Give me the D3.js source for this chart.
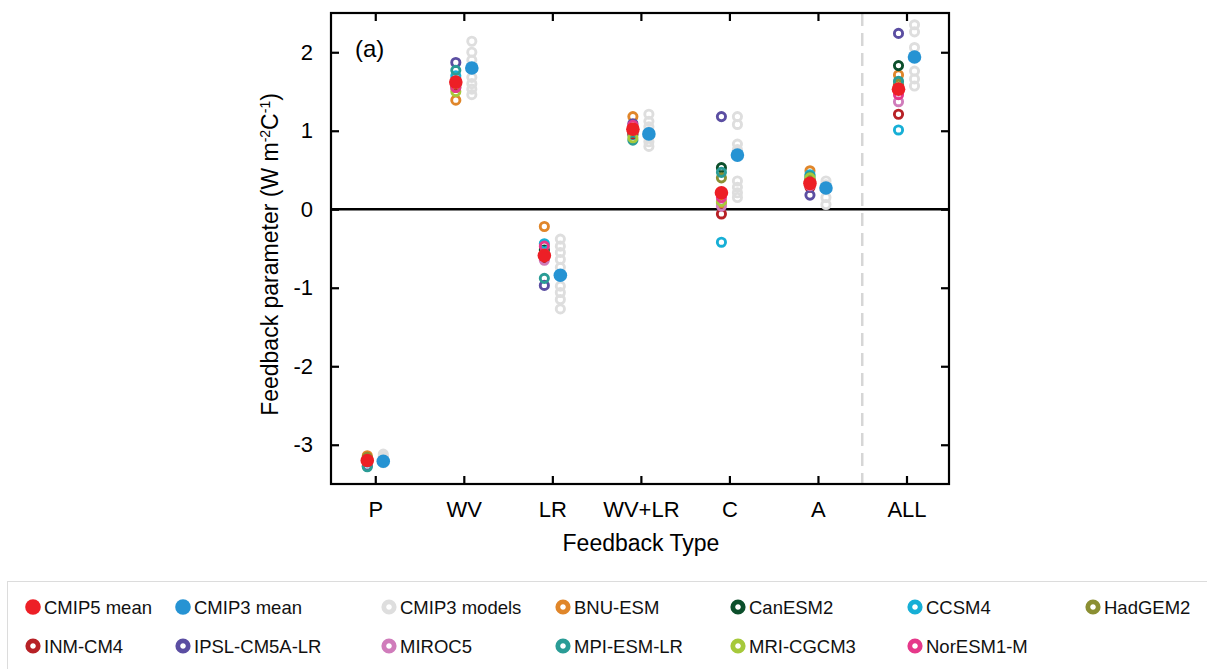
<!DOCTYPE html>
<html>
<head>
<meta charset="utf-8">
<script src="https://cdn.jsdelivr.net/npm/d3@7"></script>
<style>
  html, body { margin: 0; padding: 0; background: #fff; }
  svg { display: block; font-family: "Liberation Sans", Arial, Helvetica, sans-serif; }
</style>
</head>
<body>
<svg id="chart" width="1207" height="669"></svg>
<script>
// ---------------- DATA ----------------
const categories = ["P", "WV", "LR", "WV+LR", "C", "A", "ALL"];
const yTicks = [-3, -2, -1, 0, 1, 2];

const cmip5Mean = [-3.20, 1.62, -0.59, 1.02, 0.21, 0.33, 1.53];
const cmip3Mean = [-3.21, 1.80, -0.84, 0.96, 0.69, 0.27, 1.94];

// CMIP3 individual models (grey rings), one list per category
const cmip3P    = [-3.12, -3.15, -3.18, -3.21, -3.23];
const cmip3WV   = [2.14, 2.00, 1.90, 1.68, 1.60, 1.53, 1.46];
const cmip3LR   = [-0.38, -0.47, -0.55, -0.64, -0.74, -0.98, -1.06, -1.15, -1.27];
const cmip3WVLR = [1.21, 1.12, 1.05, 0.98, 0.92, 0.86, 0.80];
const cmip3C    = [1.18, 1.08, 0.83, 0.76, 0.36, 0.28, 0.21, 0.15];
const cmip3A    = [0.36, 0.31, 0.25, 0.15, 0.06];
const cmip3ALL  = [2.35, 2.26, 2.06, 1.76, 1.66, 1.57];

// CMIP5 models: values for P, WV, LR, WV+LR, C, A, ALL
const modelNames = ["BNU-ESM", "CanESM2", "CCSM4", "HadGEM2", "INM-CM4", "IPSL-CM5A-LR",
                    "MIROC5", "MPI-ESM-LR", "MRI-CGCM3", "NorESM1-M"];
const bnuEsm    = [-3.14, 1.39, -0.22, 1.18,  0.08, 0.49, 1.71];
const canEsm2   = [-3.18, 1.62, -0.52, 1.02,  0.53, 0.38, 1.83];
const ccsm4     = [-3.22, 1.70, -0.44, 0.95, -0.42, 0.44, 1.01];
const hadGem2   = [-3.16, 1.55, -0.60, 0.98,  0.40, 0.37, 1.59];
const inmCm4    = [-3.20, 1.58, -0.62, 0.96, -0.06, 0.28, 1.21];
const ipslCm5a  = [-3.27, 1.87, -0.97, 1.09,  1.18, 0.18, 2.24];
const miroc5    = [-3.20, 1.60, -0.65, 1.00,  0.04, 0.30, 1.37];
const mpiEsmLr  = [-3.28, 1.77, -0.88, 0.88,  0.47, 0.42, 1.63];
const mriCgcm3  = [-3.19, 1.50, -0.57, 0.91,  0.10, 0.40, 1.55];
const norEsm1m  = [-3.20, 1.55, -0.47, 1.07,  0.15, 0.33, 1.46];

// ---------------- STYLE ----------------
const colMean5 = "#ed1f26";
const colMean3 = "#2693d3";
const colGrey  = "#dedede";
const modelColors = ["#e0862a", "#0c4f2b", "#17afd6", "#8b8f33", "#b72126", "#5b4ea2",
                     "#d07cbb", "#2a9c96", "#a6c93b", "#e6388a"];

const modelSeries = [bnuEsm, canEsm2, ccsm4, hadGem2, inmCm4, ipslCm5a, miroc5, mpiEsmLr, mriCgcm3, norEsm1m];
const cmip3Series = [cmip3P, cmip3WV, cmip3LR, cmip3WVLR, cmip3C, cmip3A, cmip3ALL];

// ---------------- LAYOUT ----------------
const svg = d3.select("#chart");
const plot = { left: 331, right: 949, top: 13, bottom: 484 };
const off = 8; // horizontal offset of the two columns

const x = d3.scaleLinear().domain([-0.5, 6.48]).range([plot.left, plot.right]);
const y = d3.scaleLinear().domain([-3.5, 2.5]).range([plot.bottom, plot.top]);

// dashed separator before ALL
svg.append("line")
  .attr("x1", x(5.5)).attr("x2", x(5.5))
  .attr("y1", plot.top).attr("y2", plot.bottom)
  .attr("stroke", "#d6d6d6").attr("stroke-width", 2.5)
  .attr("stroke-dasharray", "13,7");

// zero line
svg.append("line")
  .attr("x1", plot.left).attr("x2", plot.right)
  .attr("y1", y(0)).attr("y2", y(0))
  .attr("stroke", "#000").attr("stroke-width", 2.5);

const fontTick = 22;

// axes
const idx = categories.map((d, i) => i);
const gB = svg.append("g").attr("transform", `translate(0,${plot.bottom})`)
  .call(d3.axisBottom(x).tickValues(idx).tickFormat(i => categories[i]).tickSize(-8).tickPadding(17));
const gT = svg.append("g").attr("transform", `translate(0,${plot.top})`)
  .call(d3.axisTop(x).tickValues(idx).tickFormat("").tickSize(-8));
const gL = svg.append("g").attr("transform", `translate(${plot.left},0)`)
  .call(d3.axisLeft(y).tickValues(yTicks).tickFormat(d3.format("d")).tickSize(-8).tickPadding(18));
const gR = svg.append("g").attr("transform", `translate(${plot.right},0)`)
  .call(d3.axisRight(y).tickValues(yTicks).tickFormat("").tickSize(-8));
[gB, gT, gL, gR].forEach(g => {
  g.select(".domain").remove();
  g.selectAll(".tick line").attr("stroke", "#000").attr("stroke-width", 2.2);
  g.selectAll(".tick text").attr("fill", "#000").style("font-size", fontTick + "px")
    .style("font-family", '"Liberation Sans", Arial, sans-serif');
});
gL.selectAll(".tick text").text(d => d < 0 ? "-" + Math.abs(d) : d);

// frame
svg.append("rect")
  .attr("x", plot.left).attr("y", plot.top)
  .attr("width", plot.right - plot.left).attr("height", plot.bottom - plot.top)
  .attr("fill", "none").attr("stroke", "#000").attr("stroke-width", 2.2);

// CMIP3 models (grey rings)
const ringR = 4.1, ringW = 2.9;
cmip3Series.forEach((vals, ci) => {
  svg.append("g").selectAll("circle").data(vals).join("circle")
    .attr("cx", x(ci) + off).attr("cy", d => y(d))
    .attr("r", ringR).attr("fill", "none")
    .attr("stroke", colGrey).attr("stroke-width", ringW);
});

// CMIP5 models (coloured rings)
modelSeries.forEach((vals, mi) => {
  svg.append("g").selectAll("circle").data(vals).join("circle")
    .attr("cx", (d, i) => x(i) - off).attr("cy", d => y(d))
    .attr("r", ringR).attr("fill", "none")
    .attr("stroke", modelColors[mi]).attr("stroke-width", ringW);
});

// Means
svg.append("g").selectAll("circle").data(cmip3Mean).join("circle")
  .attr("cx", (d, i) => x(i) + off).attr("cy", d => y(d))
  .attr("r", 6.8).attr("fill", colMean3);
svg.append("g").selectAll("circle").data(cmip5Mean).join("circle")
  .attr("cx", (d, i) => x(i) - off).attr("cy", d => y(d))
  .attr("r", 6.8).attr("fill", colMean5);

// panel label
svg.append("text").attr("x", 355).attr("y", 57)
  .style("font-size", "24px").text("(a)");

// axis titles
svg.append("text")
  .attr("x", 641).attr("y", 551)
  .attr("text-anchor", "middle").style("font-size", "23px")
  .text("Feedback Type");

const yt = svg.append("text")
  .attr("transform", `translate(278,${(plot.top + plot.bottom) / 2 + 6}) rotate(-90)`)
  .attr("text-anchor", "middle").style("font-size", "23px");
yt.append("tspan").text("Feedback parameter (W m");
yt.append("tspan").attr("dy", -8).style("font-size", "14px").text("-2");
yt.append("tspan").attr("dy", 8).text("C");
yt.append("tspan").attr("dy", -8).style("font-size", "14px").text("-1");
yt.append("tspan").attr("dy", 8).text(")");

// ---------------- LEGEND ----------------
svg.append("rect")
  .attr("x", 7.5).attr("y", 581.5).attr("width", 1230).attr("height", 120)
  .attr("fill", "none").attr("stroke", "#dcdcdc").attr("stroke-width", 1);

const legendCols = [33, 183, 389, 563, 738, 915, 1093];
const legendRows = [607, 646];
const legendItems = [
  { name: "CMIP5 mean", color: colMean5, filled: true },
  { name: "CMIP3 mean", color: colMean3, filled: true },
  { name: "CMIP3 models", color: colGrey, filled: false }
].concat(modelNames.map((n, i) => ({ name: n, color: modelColors[i], filled: false })));

const lg = svg.append("g").selectAll("g").data(legendItems).join("g")
  .attr("transform", (d, i) => `translate(${legendCols[i % 7]},${legendRows[Math.floor(i / 7)]})`);
lg.append("circle")
  .attr("r", d => d.filled ? 7.8 : 5.2)
  .attr("fill", d => d.filled ? d.color : "none")
  .attr("stroke", d => d.filled ? "none" : d.color)
  .attr("stroke-width", d => d.filled ? 0 : 4.8);
lg.append("text").attr("x", 11).attr("y", 6.5)
  .style("font-size", "18.5px").attr("fill", "#111")
  .text(d => d.name);
</script>
</body>
</html>
